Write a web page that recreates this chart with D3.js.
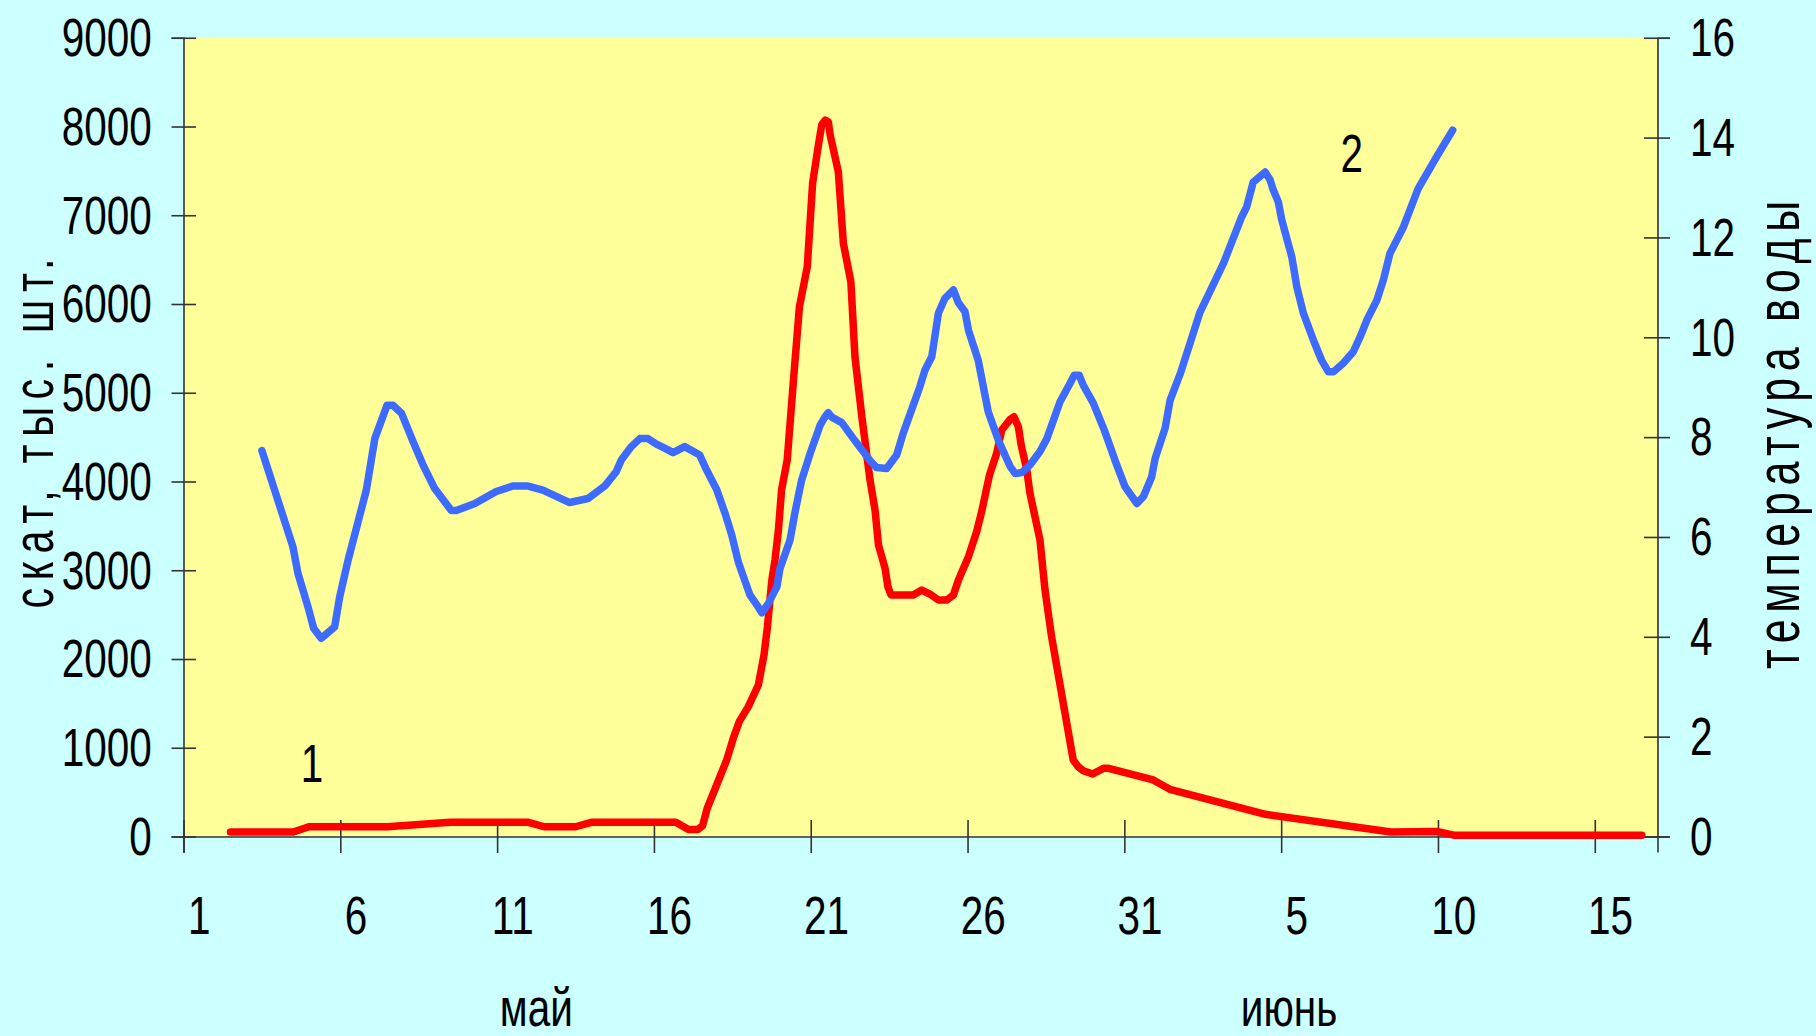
<!DOCTYPE html>
<html>
<head>
<meta charset="utf-8">
<script src="https://cdn.jsdelivr.net/npm/d3@7"></script>
<style>
  html, body { margin: 0; padding: 0; background: #ccffff; }
  svg { display: block; }
  text { font-family: "Liberation Sans", Arial, sans-serif; fill: #000; }
</style>
</head>
<body>
<svg id="chart" width="1816" height="1036"></svg>
<script>
// Day numbers count from 1 May (1 June = 32); fractional days are intra-day readings.
const fryDay = [2, 4, 4.5, 7, 9, 11.5, 12, 13, 13.5, 16.2, 16.6, 16.9, 17.05, 17.2, 17.5,
  17.82, 18.03, 18.22, 18.51, 18.83, 19.01, 19.12, 19.26, 19.36, 19.47, 19.57, 19.75, 19.95,
  20.14, 20.39, 20.56, 20.72, 20.85, 20.96, 21.06, 21.12, 21.38, 21.54, 21.78, 21.91, 22.13,
  22.39, 22.55, 22.66, 22.87, 22.96, 23.06, 23.77, 24.04, 24.3, 24.57, 24.84, 25.05, 25.21,
  25.53, 25.79, 25.95, 26.2, 26.43, 26.59, 26.86, 26.98, 27.12, 27.21, 27.39, 27.49, 27.81,
  27.97, 28.18, 28.87, 29.03, 29.19, 29.49, 29.83, 30.0, 31.42, 31.95, 35.0, 39.0, 40.5, 41.0, 47.0];
// скат, тыс. шт.
const fryCount = [50, 50, 110, 110, 160, 160, 110, 110, 160, 160, 80, 80, 120, 318, 580,
  862, 1106, 1294, 1463, 1707, 2045, 2364, 2890, 3115, 3454, 3904, 4242, 5144,
  5970, 6420, 7360, 7735, 8017, 8073, 8054, 7904, 7490, 6684, 6251, 5406, 4730,
  4017, 3679, 3285, 3022, 2815, 2721, 2721, 2777, 2732, 2665, 2665, 2721, 2890,
  3153, 3434, 3660, 4073, 4318, 4580, 4700, 4730, 4618, 4411, 4130, 3867, 3341,
  2777, 2251, 862, 786, 741, 704, 768, 768, 637, 532, 250, 50, 55, 15, 15];

const tempDay = [3.0, 3.99, 4.15, 4.47, 4.65, 4.89, 5.32, 5.48, 5.75, 6.33,
  6.60, 6.99, 7.18, 7.45, 7.82, 8.14, 8.51, 9.04, 9.2, 9.79,
  10.47, 11.0, 11.49, 11.96, 12.81, 13.40, 13.93, 14.30, 14.46, 14.78,
  15.05, 15.31, 15.58, 15.84, 16.11, 16.48, 16.96, 17.18, 17.5, 17.77,
  17.98, 18.19, 18.56, 18.78, 18.94, 19.15, 19.42, 19.52, 19.84, 20.0,
  20.21, 20.48, 20.8, 20.96, 21.06, 21.17, 21.49, 21.86, 22.39, 22.60,
  22.92, 23.24, 23.45, 23.98, 24.14, 24.36, 24.57, 24.78, 25.05, 25.21,
  25.42, 25.53, 25.84, 26.16, 26.48, 26.86, 27.02, 27.23, 27.49, 27.81,
  28.03, 28.45, 28.77, 28.90, 29.06, 29.19, 29.51, 29.88, 30.2, 30.52,
  30.9, 31.11, 31.37, 31.48, 31.80, 31.96, 32.3, 32.91, 33.66, 34.24,
  34.40, 34.61, 34.99, 35.15, 35.25, 35.41, 35.52, 35.84, 36.0, 36.21,
  36.53, 36.79, 37.0, 37.17, 37.48, 37.80, 38.02, 38.23, 38.55, 38.76,
  38.97, 39.40, 39.87, 40.46, 40.97];
// температура воды, °C
const tempValue = [7.73, 5.80, 5.27, 4.60, 4.17, 3.97, 4.20, 4.80, 5.54, 6.94,
  7.97, 8.64, 8.64, 8.48, 7.91, 7.44, 6.97, 6.53, 6.53, 6.67,
  6.91, 7.02, 7.02, 6.94, 6.69, 6.77, 7.02, 7.31, 7.54, 7.81,
  7.97, 7.97, 7.86, 7.78, 7.69, 7.81, 7.64, 7.34, 6.95, 6.47,
  6.04, 5.50, 4.84, 4.64, 4.48, 4.67, 5.00, 5.37, 5.94, 6.50,
  7.14, 7.67, 8.24, 8.41, 8.49, 8.40, 8.29, 7.97, 7.53, 7.39,
  7.37, 7.64, 8.08, 9.01, 9.34, 9.61, 10.48, 10.78, 10.95, 10.69,
  10.51, 10.14, 9.54, 8.51, 7.94, 7.41, 7.27, 7.29, 7.44, 7.71,
  7.97, 8.71, 9.08, 9.24, 9.24, 9.04, 8.68, 8.11, 7.54, 7.01,
  6.67, 6.81, 7.2, 7.57, 8.18, 8.74, 9.3, 10.5, 11.48, 12.41,
  12.61, 13.11, 13.31, 13.15, 12.95, 12.71, 12.35, 11.61, 11.01, 10.48,
  9.94, 9.54, 9.31, 9.31, 9.48, 9.71, 10.01, 10.34, 10.74, 11.15,
  11.68, 12.21, 12.98, 13.62, 14.15];

const dayTickDays = [1, 6, 11, 16, 21, 26, 31, 36, 41, 46];
const dayTickLabels = ["1", "6", "11", "16", "21", "26", "31", "5", "10", "15"];
const countTicks = [0, 1000, 2000, 3000, 4000, 5000, 6000, 7000, 8000, 9000];
const tempTicks = [0, 2, 4, 6, 8, 10, 12, 14, 16];
const monthNames = ["май", "июнь"];
const monthCenterDays = [11.75, 35.75];
const seriesTags = ["1", "2"];

const W = 1816, H = 1036;
const plot = { left: 183.5, right: 1657.5, top: 37.75, bottom: 836.5 };
const narrow = 0.75;           // horizontal squeeze of the lettering
const fontPx = 54;

const svg = d3.select("#chart");
svg.append("rect").attr("width", W).attr("height", H).attr("fill", "#ccffff");
svg.append("rect")
  .attr("x", plot.left).attr("y", plot.top)
  .attr("width", plot.right - plot.left).attr("height", plot.bottom - plot.top)
  .attr("fill", "#ffff99");

const x = d3.scaleLinear().domain([0.5, 47.5]).range([plot.left, plot.right]);
const yCount = d3.scaleLinear().domain([0, 9000]).range([plot.bottom, plot.top]);
const yTemp = d3.scaleLinear().domain([0, 16]).range([plot.bottom, plot.top]);

const axisColor = "#333";
const plain = d3.format("d");

// left axis
const gL = svg.append("g").attr("transform", `translate(${plot.left},0)`)
  .call(d3.axisLeft(yCount).tickValues(countTicks).tickFormat(plain).tickSizeOuter(0).tickSize(12).tickPadding(0));
gL.select(".domain").attr("stroke", axisColor).attr("stroke-width", 1.6);
gL.selectAll(".tick line").attr("x1", 12.5).attr("x2", -12).attr("stroke", axisColor).attr("stroke-width", 1.6);
gL.selectAll(".tick text")
  .attr("font-size", fontPx).attr("font-family", "Liberation Sans, Arial, sans-serif")
  .attr("text-anchor", "end").attr("x", -31.8 / narrow).attr("dy", "0.33em")
  .attr("transform", `scale(${narrow},1)`);

// right axis
const gR = svg.append("g").attr("transform", `translate(${plot.right},0)`)
  .call(d3.axisRight(yTemp).tickValues(tempTicks).tickFormat(plain).tickSizeOuter(0).tickSize(12).tickPadding(0));
gR.select(".domain").attr("stroke", axisColor).attr("stroke-width", 1.6);
gR.selectAll(".tick line").attr("x1", -13.5).attr("x2", 12.5).attr("stroke", axisColor).attr("stroke-width", 1.6);
gR.selectAll(".tick text")
  .attr("font-size", fontPx).attr("font-family", "Liberation Sans, Arial, sans-serif")
  .attr("text-anchor", "start").attr("x", 32.5 / narrow).attr("dy", "0.33em")
  .attr("transform", `scale(${narrow},1)`);

// bottom axis: ticks on day boundaries, labels on day centres
const gB = svg.append("g").attr("transform", `translate(0,${plot.bottom})`)
  .call(d3.axisBottom(x).tickValues(dayTickDays.map(d => d - 0.5)).tickFormat("").tickSizeOuter(0).tickSize(16));
gB.select(".domain").attr("stroke", axisColor).attr("stroke-width", 1.6);
gB.selectAll(".tick line").attr("y1", -16.5).attr("y2", 16.5).attr("stroke", axisColor).attr("stroke-width", 1.6);

svg.append("g").selectAll("g").data(dayTickDays).join("g")
  .attr("transform", d => `translate(${x(d)},934)`)
  .append("text")
  .attr("font-size", fontPx).attr("text-anchor", "middle")
  .attr("transform", `scale(${narrow},1)`)
  .text((d, i) => dayTickLabels[i]);

// month names
svg.append("g").selectAll("g").data(monthCenterDays).join("g")
  .attr("transform", d => `translate(${x(d)},1026)`)
  .append("text")
  .attr("font-size", fontPx).attr("text-anchor", "middle")
  .attr("transform", `scale(${narrow},1)`)
  .text((d, i) => monthNames[i]);

// axis titles: narrow letters, spread along the axis
function axisTitle(cx, cy, label, span, size, sy) {
  const sx = 0.74;
  svg.append("g").attr("transform", `translate(${cx},${cy}) rotate(-90) scale(${sx},${sy})`)
    .append("text").attr("font-size", size).attr("text-anchor", "middle")
    .attr("textLength", span / sx).attr("lengthAdjust", "spacing")
    .text(label);
}
axisTitle(53, 433.5, "скат, тыс. шт.", 350, 56, 1.02);
axisTitle(1799, 435, "температура воды", 468, 58, 1.04);

// series
const fry = d3.zip(fryDay, fryCount);
const temp = d3.zip(tempDay, tempValue);

svg.append("path").datum(fry)
  .attr("fill", "none").attr("stroke", "#ff0000").attr("stroke-width", 7.5)
  .attr("stroke-linejoin", "round").attr("stroke-linecap", "round")
  .attr("d", d3.line().x(d => x(d[0])).y(d => yCount(d[1])));

svg.append("path").datum(temp)
  .attr("fill", "none").attr("stroke", "#3d6bff").attr("stroke-width", 7.5)
  .attr("stroke-linejoin", "round").attr("stroke-linecap", "round")
  .attr("d", d3.line().x(d => x(d[0])).y(d => yTemp(d[1])));

// series numbers
const tagPos = [[x(4.6), yCount(617)], [x(37.75), yTemp(13.31)]];
svg.append("g").selectAll("g").data(tagPos).join("g")
  .attr("transform", d => `translate(${d[0]},${d[1]})`)
  .append("text")
  .attr("font-size", fontPx).attr("text-anchor", "middle")
  .attr("transform", `scale(${narrow},1)`)
  .text((d, i) => seriesTags[i]);
</script>
</body>
</html>
